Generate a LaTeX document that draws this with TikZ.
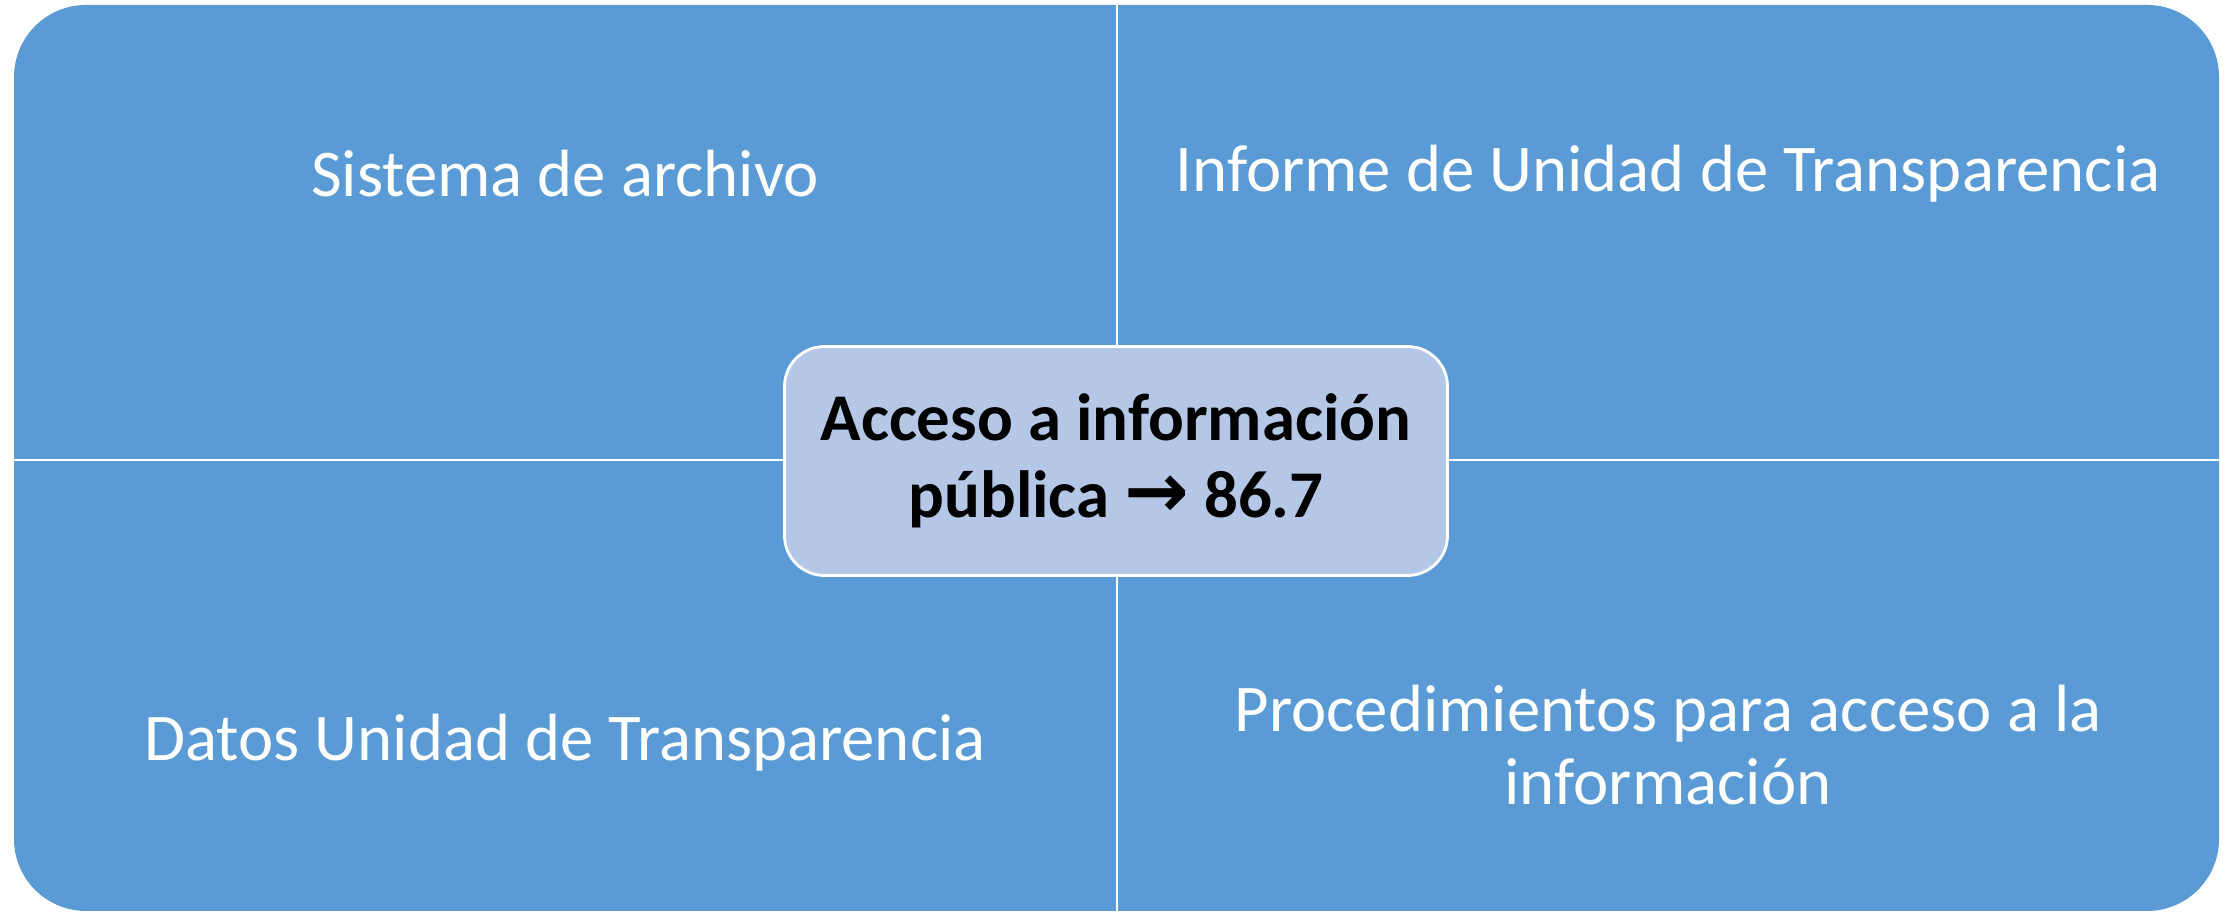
\documentclass[tikz,border=0pt]{standalone}
\usepackage{fontspec}
\setmainfont{Carlito}
\newfontfamily\arrowfont{DejaVu Sans}
\usepackage{xcolor}
\usepackage{tikz}
\definecolor{quadblue}{RGB}{91,155,213}
\definecolor{centerblue}{RGB}{180,199,231}

\begin{document}
\begin{tikzpicture}[x=0.1mm,y=0.1mm]
    \tikzstyle{quad_label}=[text=white,align=center,font=\fontsize{19}{21}\selectfont]
    \tikzstyle{divider}=[white,line width=0.8pt]
    \useasboundingbox (0,0) rectangle (2233,912);
    \coordinate (nw) at (14,907); \coordinate (se) at (2219,1);
    \coordinate (top) at (1117,907); \coordinate (bottom) at (1117,1);
    \coordinate (left) at (14,452); \coordinate (right) at (2219,452);
    % Draw the matrix
    \fill[quadblue,rounded corners=0.72cm] (nw) rectangle (se);
    \draw[divider] (top) -- (bottom);
    \draw[divider] (left) -- (right);
    % Quadrant labels
    \node[quad_label] (archivo) at (565,738) {Sistema de archivo};
    \node[quad_label] (informe) at (1668,738) {Informe de Unidad de Transparencia};
    \node[quad_label] (datos) at (565,169) {Datos Unidad de Transparencia};
    \node[quad_label] (procedimientos) at (1668,167) {Procedimientos para acceso a la\\información};
    % Center box
    \node[draw=white,line width=0.8pt,fill=centerblue,rounded corners=0.4cm,
          minimum width=6.63cm,minimum height=2.29cm,align=center,
          font=\bfseries\fontsize{19}{22}\selectfont] (acceso) at (1116,451)
          {Acceso a información\\pública {\arrowfont\fontsize{22}{22}\selectfont→} 86.7};
\end{tikzpicture}
\end{document}
